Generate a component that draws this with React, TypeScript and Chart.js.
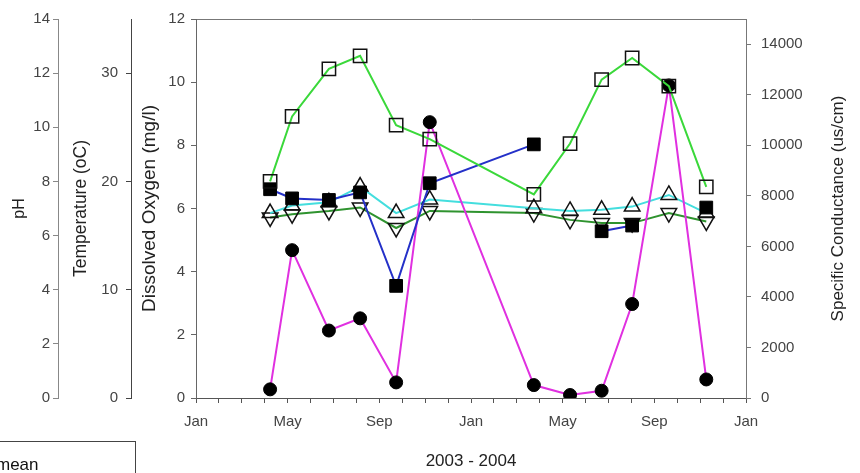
import { useEffect, useRef } from 'react';
import { Chart, registerables } from 'chart.js';

Chart.register(...registerables);

const FONT = "'Liberation Sans', Arial, sans-serif";

// ---- data ----
const sampleDates = [
  '2003-04-08', '2003-05-07', '2003-06-25', '2003-08-06', '2003-09-23', '2003-11-07',
  '2004-03-24', '2004-05-11', '2004-06-22', '2004-08-02', '2004-09-20', '2004-11-09',
];
const temperature = [20.0, 26.0, 30.4, 31.6, 25.2, 23.9, 18.8, 23.5, 29.4, 31.4, 28.8, 19.5];
const dissolvedOxygen = [6.61, 6.32, 6.27, 6.51, 3.55, 6.8, 8.03, null, 5.28, 5.46, null, 6.03];
const conductance = [342, 5851, 2670, 3153, 617, 10917, 511, 118, 287, 3719, 12370, 734];
const phSurface = [6.83, 7.11, 7.23, 7.81, 6.83, 7.33, 7.01, 6.91, 6.95, 7.07, 7.5, 6.83];
const phBottom = [6.67, 6.79, 6.91, 7.04, 6.28, 6.91, 6.83, 6.58, 6.46, 6.46, 6.83, 6.52];
const scTicks = [0, 2000, 4000, 6000, 8000, 10000, 12000, 14000];
const monthLabels = ['Jan', 'May', 'Sep'];
const xTitle = '2003 - 2004';
const scTitle = 'Specific Conductance (us/cm)';

function toMonths(d: string): number {
  const [y, m, dd] = d.split('-').map(Number);
  const dim = new Date(y, m, 0).getDate();
  return (y - 2003) * 12 + (m - 1) + (dd - 1) / dim;
}

function series(values: (number | null)[]) {
  return sampleDates.map((d, i) => ({ x: toMonths(d), y: values[i] }));
}

function yAxis(
  position: 'left' | 'right',
  min: number,
  max: number,
  step: number,
  weight: number,
  width: number,
  tickPad: number,
  title: string | null,
  titleSize: number,
  titlePad: number,
  borderColor: string
) {
  return {
    type: 'linear',
    position,
    min,
    max,
    weight,
    ticks: {
      stepSize: step,
      includeBounds: false,
      padding: tickPad,
      color: '#444',
      font: { family: FONT, size: 15 },
      callback: (v: any) => String(v),
    },
    grid: { drawOnChartArea: false, drawTicks: true, tickLength: 5, color: borderColor },
    border: { display: true, color: borderColor, width: 1 },
    title: {
      display: !!title,
      text: title || '',
      color: '#222',
      font: { family: FONT, size: titleSize },
      padding: { top: titlePad, bottom: 0 },
    },
    afterFit: (s: any) => {
      s.width = width;
    },
  };
}

const scTitlePlugin = {
  id: 'scTitle',
  afterDraw(chart: any) {
    const s = chart.scales.ySC;
    const ctx = chart.ctx;
    ctx.save();
    ctx.translate(s.right - 22, (s.top + s.bottom) / 2);
    ctx.rotate(-Math.PI / 2);
    ctx.font = `17px ${FONT}`;
    ctx.fillStyle = '#222';
    ctx.textAlign = 'center';
    ctx.textBaseline = 'middle';
    ctx.fillText(scTitle, 0, 0);
    ctx.restore();
  },
};

export default function App() {
  const ref = useRef<HTMLCanvasElement>(null);

  useEffect(() => {
    if (!ref.current) return;
    const scAxis: any = yAxis('right', 0, 15000, 2000, 1, 114, 10, null, 15, 0, '#777');
    scAxis.afterBuildTicks = (s: any) => {
      s.ticks = scTicks.map((v) => ({ value: v }));
    };
    const chart = new Chart(ref.current, {
      type: 'line',
      data: {
        datasets: [
          {
            label: 'Temperature',
            data: series(temperature),
            yAxisID: 'yTemp',
            borderColor: '#3ad83a',
            borderWidth: 2,
            pointStyle: 'rect',
            pointRadius: 9.4,
            pointBorderColor: '#111',
            pointBackgroundColor: 'rgba(0,0,0,0)',
            pointBorderWidth: 1.5,
          },
          {
            label: 'Dissolved Oxygen',
            data: series(dissolvedOxygen),
            yAxisID: 'yDO',
            borderColor: '#2430c8',
            borderWidth: 2,
            pointStyle: 'rect',
            pointRadius: 9,
            pointBorderColor: '#000',
            pointBackgroundColor: '#000',
            pointBorderWidth: 1,
            spanGaps: false,
          },
          {
            label: 'Specific Conductance',
            data: series(conductance),
            yAxisID: 'ySC',
            borderColor: '#e030e0',
            borderWidth: 2,
            pointStyle: 'circle',
            pointRadius: 6.5,
            pointBorderColor: '#000',
            pointBackgroundColor: '#000',
            pointBorderWidth: 1,
          },
          {
            label: 'pH surface',
            data: series(phSurface),
            yAxisID: 'yPH',
            borderColor: '#44dede',
            borderWidth: 2,
            pointStyle: 'triangle',
            pointRadius: 9,
            pointBorderColor: '#111',
            pointBackgroundColor: 'rgba(0,0,0,0)',
            pointBorderWidth: 1.5,
          },
          {
            label: 'pH bottom',
            data: series(phBottom),
            yAxisID: 'yPH',
            borderColor: '#2f932f',
            borderWidth: 2,
            pointStyle: 'triangle',
            pointRotation: 180,
            pointRadius: 9,
            pointBorderColor: '#111',
            pointBackgroundColor: 'rgba(0,0,0,0)',
            pointBorderWidth: 1.5,
          },
        ],
      },
      options: {
        responsive: false,
        animation: false,
        devicePixelRatio: 1,
        layout: { padding: { top: 16, left: 0, right: 0, bottom: 0 } },
        plugins: { legend: { display: false }, tooltip: { enabled: false } },
        elements: { line: { tension: 0 } },
        scales: {
          x: {
            type: 'linear',
            position: 'bottom',
            min: 0,
            max: 24,
            ticks: {
              stepSize: 1,
              autoSkip: false,
              maxRotation: 0,
              padding: 10,
              color: '#444',
              font: { family: FONT, size: 15 },
              callback: (v: any) => (v % 4 === 0 ? monthLabels[(v / 4) % 3] : ''),
            },
            grid: { drawOnChartArea: false, tickLength: 5, color: '#555' },
            border: { color: '#555' },
            title: {
              display: true,
              text: xTitle,
              color: '#222',
              font: { family: FONT, size: 17 },
              padding: { top: 0, bottom: 1 },
            },
            afterFit: (s: any) => {
              s.height = 75;
            },
          },
          xTop: {
            type: 'linear',
            position: 'top',
            min: 0,
            max: 24,
            ticks: { display: false },
            grid: { display: false },
            border: { display: true, color: '#777' },
            afterFit: (s: any) => {
              s.height = 0;
            },
          },
          yPH: yAxis('left', 0, 14, 2, 3, 58, 3, 'pH', 16, 10, '#888'),
          yTemp: yAxis('left', 0, 35, 10, 2, 73, 8, 'Temperature (oC)', 17.5, 13, '#444'),
          yDO: yAxis('left', 0, 12, 2, 1, 65, 6, 'Dissolved Oxygen (mg/l)', 19, 7, '#666'),
          ySC: scAxis,
        } as any,
      },
      plugins: [scTitlePlugin],
    } as any);
    return () => chart.destroy();
  }, []);

  return (
    <div
      style={{
        position: 'fixed',
        left: 0,
        top: 0,
        width: 860,
        height: 473,
        overflow: 'hidden',
        background: '#fff',
      }}
    >
      <canvas ref={ref} width={860} height={473} style={{ position: 'absolute', left: 0, top: 0 }} />
      <div
        style={{
          position: 'absolute',
          left: -20,
          top: 441,
          width: 154,
          height: 60,
          border: '1px solid #444',
          fontFamily: FONT,
          fontSize: 17,
          color: '#111',
        }}
      >
        <span style={{ position: 'absolute', left: 15, top: 13, whiteSpace: 'nowrap' }}>mean</span>
      </div>
    </div>
  );
}
